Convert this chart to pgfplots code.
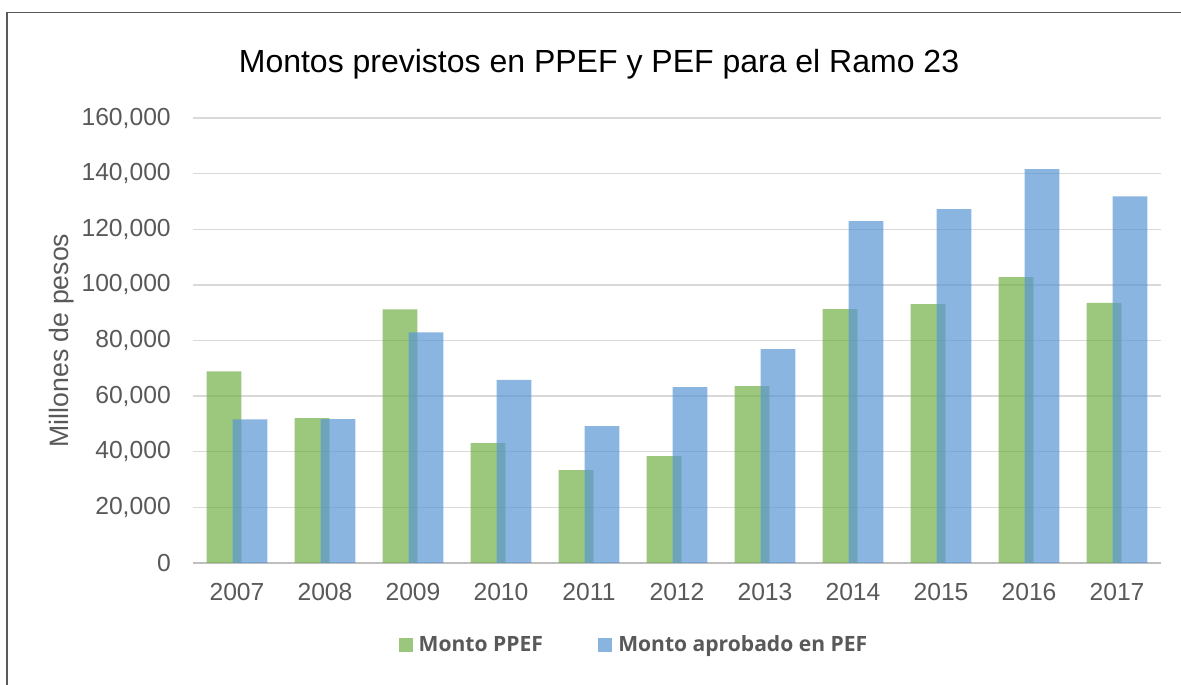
\documentclass[border=0pt]{standalone}
\usepackage{fontspec}
\setmainfont{Liberation Sans}
\newfontfamily\osans{Open Sans}
\usepackage{pgfplots}
\pgfplotsset{compat=1.18}
\definecolor{gbar}{RGB}{112,176,69}
\definecolor{bbar}{RGB}{89,149,211}
\definecolor{gridc}{RGB}{217,217,217}
\definecolor{axisc}{RGB}{191,191,191}
\definecolor{txt}{RGB}{89,89,89}
\definecolor{framec}{RGB}{90,90,90}
\begin{document}
\begin{tikzpicture}
\path[use as bounding box] (0pt,0pt) rectangle (885.75pt,513.75pt);
\draw[framec, line width=1.2pt] (5.25pt,-5pt) -- (5.25pt,504.5pt) -- (895pt,504.5pt);
\begin{axis}[
  at={(144.75pt,91.5pt)}, anchor=south west,
  scale only axis, width=726pt, height=333.75pt,
  xmin=-0.5, xmax=10.5, ymin=0, ymax=160000,
  axis lines*=left,
  y axis line style={draw=none},
  x axis line style={draw=axisc, line width=1.5pt},
  major tick length=0pt,
  ytick={0,20000,...,160000},
  xtick={0,...,10},
  xticklabels={2007,2008,2009,2010,2011,2012,2013,2014,2015,2016,2017},
  ymajorgrids, grid style={draw=gridc, line width=1pt},
  scaled y ticks=false,
  /pgf/number format/assume math mode=true,
  yticklabel style={/pgf/number format/.cd, fixed, 1000 sep={,}, /tikz/.cd, text=txt, font=\fontsize{18.5}{20}\selectfont, anchor=east, inner sep=0pt, xshift=-16.5pt},
  xticklabel style={text=txt, font=\fontsize{18.5}{20}\selectfont, anchor=north, inner sep=0pt, yshift=-15pt},
  ylabel={Millones de pesos},
  every axis y label/.style={at={(rel axis cs:-0.1353,0.5)}, rotate=90, anchor=center, text=txt, font=\fontsize{20}{22}\selectfont},
  legend style={at={(rel axis cs:0.4576,-0.184)}, anchor=center, draw=none, legend columns=2, text=txt, font=\osans\bfseries\fontsize{15.8}{18}\selectfont, /tikz/every even column/.append style={column sep=37pt}, nodes={inner xsep=4.5pt}},
  legend image code/.code={\fill[#1] (0pt,-5.25pt) rectangle (10.5pt,5.25pt);},
]
\addplot[ybar, bar width=25.9pt, bar shift=-9.75pt, draw=none, fill=gbar, fill opacity=0.7]
  coordinates {(0,68900)(1,52100)(2,91200)(3,43100)(4,33400)(5,38400)(6,63600)(7,91300)(8,93100)(9,102800)(10,93500)};
\addlegendentry{Monto PPEF}
\addplot[ybar, bar width=25.9pt, bar shift=9.75pt, draw=none, fill=bbar, fill opacity=0.7]
  coordinates {(0,51600)(1,51700)(2,82900)(3,65800)(4,49200)(5,63200)(6,76900)(7,122900)(8,127200)(9,141600)(10,131800)};
\addlegendentry{Monto aprobado en PEF}
\end{axis}
\node[anchor=base, font=\fontsize{24}{27}\selectfont] at (449.25pt,459pt) {Montos previstos en PPEF y PEF para el Ramo 23};
\end{tikzpicture}
\end{document}
